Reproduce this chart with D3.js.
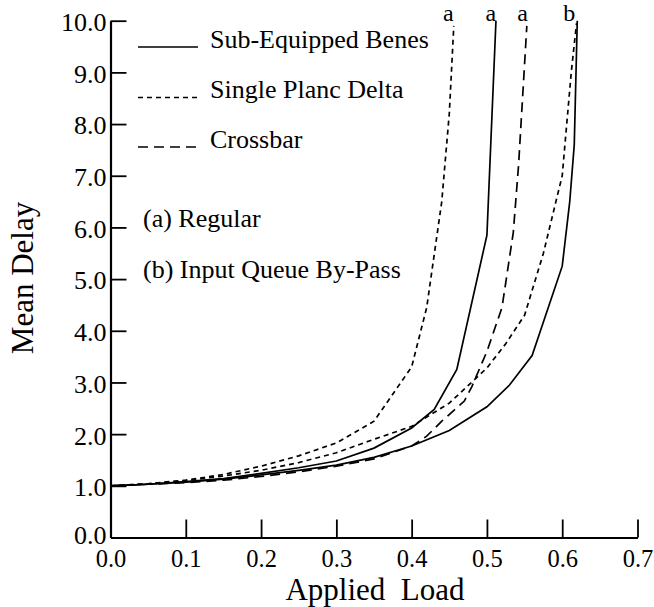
<!DOCTYPE html>
<html>
<head>
<meta charset="utf-8">
<script src="https://cdn.jsdelivr.net/npm/d3@7"></script>
<style>
  html, body { margin: 0; padding: 0; background: #fff; }
  svg { display: block; }
  text { font-family: "Liberation Serif", "Times New Roman", "DejaVu Serif", serif; fill: #000; }
</style>
</head>
<body>
<svg id="chart" width="654" height="607"></svg>
<script>
// ---- Data ----
const xTicks = [0, 0.1, 0.2, 0.3, 0.4, 0.5, 0.6, 0.7];
const yTicks = [0, 1, 2, 3, 4, 5, 6, 7, 8, 9, 10];

// Sub-Equipped Benes, (a) Regular
const benesA_load  = [0, 0.05, 0.1, 0.15, 0.2, 0.25, 0.3, 0.35, 0.4, 0.43, 0.46, 0.50, 0.512];
const benesA_delay = [1.0, 1.03, 1.08, 1.14, 1.24, 1.35, 1.48, 1.73, 2.12, 2.48, 3.25, 5.85, 10.0];

// Sub-Equipped Benes, (b) Input Queue By-Pass
const benesB_load  = [0, 0.05, 0.1, 0.15, 0.2, 0.25, 0.3, 0.35, 0.4, 0.45, 0.5, 0.53, 0.56, 0.60, 0.61, 0.616, 0.62];
const benesB_delay = [1.0, 1.03, 1.07, 1.13, 1.21, 1.30, 1.40, 1.55, 1.77, 2.07, 2.53, 2.95, 3.52, 5.25, 6.5, 7.6, 10.0];

// Single Planc Delta, (a) Regular
const deltaA_load  = [0, 0.05, 0.1, 0.15, 0.2, 0.25, 0.3, 0.35, 0.4, 0.42, 0.44, 0.45, 0.456];
const deltaA_delay = [1.0, 1.04, 1.11, 1.22, 1.38, 1.58, 1.83, 2.25, 3.30, 4.45, 6.5, 8.2, 9.9];

// Single Planc Delta, (b) Input Queue By-Pass
const deltaB_load  = [0, 0.05, 0.1, 0.15, 0.2, 0.25, 0.3, 0.35, 0.4, 0.45, 0.5, 0.525, 0.55, 0.575, 0.60, 0.612, 0.619];
const deltaB_delay = [1.0, 1.04, 1.10, 1.19, 1.30, 1.45, 1.64, 1.90, 2.15, 2.60, 3.28, 3.75, 4.30, 5.50, 7.0, 9.0, 9.95];

// Crossbar, (a) Regular
const cross_load  = [0, 0.05, 0.1, 0.15, 0.2, 0.25, 0.3, 0.35, 0.4, 0.42, 0.44, 0.47, 0.48, 0.50, 0.52, 0.535, 0.542, 0.553];
const cross_delay = [1.0, 1.03, 1.06, 1.11, 1.18, 1.27, 1.38, 1.52, 1.77, 1.96, 2.25, 2.64, 2.92, 3.6, 4.45, 5.9, 7.2, 9.9];

const seriesNames  = ["Sub-Equipped Benes", "Single Planc Delta", "Crossbar"];
const seriesDashes = [null, "5,4", "10,6"];
const noteLabels   = ["(a) Regular", "(b) Input Queue By-Pass"];

// curve end labels (text, load)
const endLabelText = ["a", "a", "a", "b"];
const endLabelLoad = [0.4486, 0.5052, 0.5474, 0.6093];

// ---- Build ----
const svg = d3.select("#chart");
const x = d3.scaleLinear().domain([0, 0.7]).range([110.5, 637.5]);
const y = d3.scaleLinear().domain([0, 10]).range([537.5, 20.7]);

const curves = [
  { load: benesA_load, delay: benesA_delay, dash: seriesDashes[0] },
  { load: benesB_load, delay: benesB_delay, dash: seriesDashes[0] },
  { load: deltaA_load, delay: deltaA_delay, dash: seriesDashes[1] },
  { load: deltaB_load, delay: deltaB_delay, dash: seriesDashes[1] },
  { load: cross_load,  delay: cross_delay,  dash: seriesDashes[2] }
];

const line = d3.line().x(d => x(d[0])).y(d => y(d[1])).curve(d3.curveLinear);

svg.append("g").selectAll("path").data(curves).join("path")
  .attr("d", c => line(c.load.map((l, i) => [l, c.delay[i]])))
  .attr("fill", "none")
  .attr("stroke", "#000")
  .attr("stroke-width", 1.7)
  .attr("stroke-dasharray", c => c.dash);

// Axes
const xAxis = d3.axisBottom(x).tickValues(xTicks).tickFormat(d3.format(".1f"))
  .tickSizeInner(-18).tickSizeOuter(0).tickPadding(12);
const gx = svg.append("g").attr("transform", `translate(0,${y(0)})`).call(xAxis);
gx.selectAll(".tick").filter(d => d === 0).select("line").remove();

const yAxis = d3.axisLeft(y).tickValues(yTicks).tickFormat(d3.format(".1f"))
  .tickSizeInner(-16).tickSizeOuter(0).tickPadding(4);
const gy = svg.append("g").attr("transform", `translate(${x(0)},0)`).call(yAxis);
gy.selectAll(".tick").filter(d => d === 0).select("line").remove();

[gx, gy].forEach(g => {
  g.select(".domain").attr("stroke", "#000").attr("stroke-width", 2.2);
  g.selectAll(".tick line").attr("stroke", "#000").attr("stroke-width", 1.8);
  g.selectAll(".tick text").attr("fill", "#000")
    .style("font-family", '"Liberation Serif", "Times New Roman", serif');
});
gx.selectAll(".tick text").attr("font-size", 24.5);
gy.selectAll(".tick text").attr("font-size", 26)
  .attr("dy", d => d === 0 ? "0.22em" : "0.38em");

// Axis titles
svg.append("text").attr("x", 375).attr("y", 600).attr("text-anchor", "middle")
  .attr("font-size", 31).style("white-space", "pre").text("Applied  Load");
svg.append("text").attr("transform", "translate(33,278) rotate(-90)")
  .attr("text-anchor", "middle").attr("font-size", 31).text("Mean Delay");

// Legend
const legendY = [47, 97.5, 147];
const lg = svg.append("g");
seriesNames.forEach((name, i) => {
  lg.append("line").attr("x1", 138).attr("x2", 198)
    .attr("y1", legendY[i]).attr("y2", legendY[i])
    .attr("stroke", "#000").attr("stroke-width", 1.7)
    .attr("stroke-dasharray", seriesDashes[i]);
  lg.append("text").attr("x", 210).attr("y", legendY[i] + 0.5)
    .attr("font-size", 26).text(name);
});
const noteY = [227, 277.5];
noteLabels.forEach((t, i) => {
  svg.append("text").attr("x", 143).attr("y", noteY[i]).attr("font-size", 26).text(t);
});

// End labels
endLabelText.forEach((t, i) => {
  svg.append("text").attr("x", x(endLabelLoad[i])).attr("y", 20.5)
    .attr("text-anchor", "middle").attr("font-size", 24).text(t);
});
</script>
</body>
</html>
